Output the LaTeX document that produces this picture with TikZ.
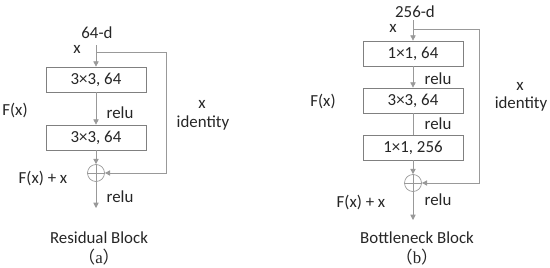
\documentclass[tikz,border=0pt]{standalone}
\usepackage{fontspec}
\setmainfont{Carlito}
\newfontfamily\cjk{Noto Sans CJK SC}
\newfontfamily\capfont{Liberation Serif}
\usetikzlibrary{arrows.meta,positioning}
\colorlet{colorLine}{black!40}
\colorlet{colorBox}{black!50}
\colorlet{colorText}{black!85}
\newcommand{\lpar}{{\cjk （}}
\newcommand{\rpar}{{\cjk ）}}
\begin{document}
\begin{tikzpicture}[x=0.02cm,y=-0.02cm,
    op/.style={draw=colorBox, fill=white, minimum width=2cm, minimum height=0.5cm,
               inner sep=2pt, font=\fontsize{9.6}{11}\selectfont, text=colorText},
    lbl/.style={font=\fontsize{9.6}{11}\selectfont, text=colorText, inner sep=1pt},
    sum/.style={draw=colorLine, circle, minimum size=0.34cm, inner sep=0pt},
    flow/.style={-{Triangle[length=3pt,width=3pt]}, draw=colorLine},
    line/.style={draw=colorLine},
    >=stealth
]
\useasboundingbox (0,0) rectangle (550,267);

% ------------------------------------------------------------
% (a) Residual Block
% ------------------------------------------------------------
\node[lbl] (dA) at (97,33) {64-d};
\node[lbl] (xA) at (77,49) {x};
\coordinate (inA) at (96,45);
\coordinate (brA) at (96,52);
\coordinate (cA1) at (166,52);
\coordinate (cA2) at (166,173);

\node[op] (a1) at (96,79.5) {3×3, 64};
\node[op] (a2) at (96,137.5) {3×3, 64};
\node[sum] (sA) at (96,173) {};
\coordinate (outA) at (96,208);

\draw[flow] (inA) to (a1);
\draw[flow] (a1) to (a2);
\draw[flow] (a2) to (sA);
\draw[line] (sA.north) to (sA.south);
\draw[line] (sA.west) to (sA.east);
\draw[flow] (sA) to (outA);
\draw[flow] (brA) -- (cA1) -- (cA2) -- (sA);

\node[lbl] (fA)   at (15,110) {F(x)};
\node[lbl] (rA1)  at (120,113) {relu};
\node[lbl] (fxA)  at (43,178) {F(x) + x};
\node[lbl] (rA2)  at (120,197) {relu};
\node[lbl] (idxA) at (202,104) {x};
\node[lbl] (idA)  at (203,123) {identity};
\node[lbl] (tA)   at (99,238) {Residual Block};
\node[lbl] (capA) at (99,257) {\lpar{\capfont a}\rpar};

% ------------------------------------------------------------
% (b) Bottleneck Block
% ------------------------------------------------------------
\node[lbl] (dB) at (415,12) {256-d};
\node[lbl] (xB) at (393,28) {x};
\coordinate (inB) at (413,20);
\coordinate (brB) at (413,29);
\coordinate (cB1) at (479,29);
\coordinate (cB2) at (479,183);

\node[op] (b1) at (413,53.5) {1×1, 64};
\node[op] (b2) at (413,100.5) {3×3, 64};
\node[op] (b3) at (413,147.5) {1×1, 256};
\node[sum] (sB) at (413,183) {};
\coordinate (outB) at (413,220);

\draw[flow] (inB) to (b1);
\draw[flow] (b1) to (b2);
\draw[line] (b2) to (b3);
\draw[flow] (b3) to (sB);
\draw[line] (sB.north) to (sB.south);
\draw[line] (sB.west) to (sB.east);
\draw[flow] (sB) to (outB);
\draw[flow] (brB) -- (cB1) -- (cB2) -- (sB);

\node[lbl] (fB)   at (323,101) {F(x)};
\node[lbl] (rB1)  at (438,79) {relu};
\node[lbl] (rB2)  at (438,124) {relu};
\node[lbl] (fxB)  at (361,202) {F(x) + x};
\node[lbl] (rB3)  at (438,200) {relu};
\node[lbl] (idxB) at (520,86) {x};
\node[lbl] (idB)  at (521,104) {identity};
\node[lbl] (tB)   at (417,238) {Bottleneck Block};
\node[lbl] (capB) at (417,257) {\lpar{\capfont b}\rpar};
\end{tikzpicture}
\end{document}
